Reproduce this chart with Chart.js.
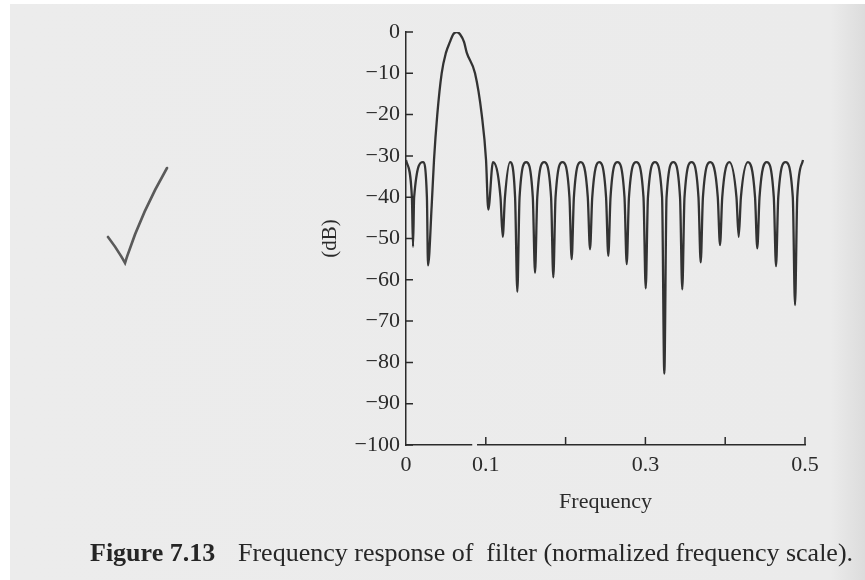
<!DOCTYPE html>
<html>
<head>
<meta charset="utf-8">
<script src="https://cdn.jsdelivr.net/npm/chart.js@4.4.1/dist/chart.umd.min.js"></script>
<style>
  body { margin: 0; background: #fff; }
  #page {
    position: absolute; left: 10px; top: 4px; width: 855px; height: 576px;
    background: linear-gradient(to right, #ececec 0%, #ebebeb 96%, #dcdcdc 100%);
  }
  #wrap { position: absolute; left: 0; top: 0; width: 865px; height: 580px; }
  #caption {
    position: absolute; left: 90px; top: 538px; white-space: nowrap;
    font-family: "Liberation Serif", serif; font-size: 26px; color: #262626;
  }
  #caption b { display: inline-block; width: 148px; }
  #tick { position: absolute; left: 0; top: 0; }
</style>
</head>
<body>
<div id="page"></div>
<svg id="tick" width="865" height="580">
  <path d="M108 237 Q118 250 125 263 Q140 215 167 168" fill="none" stroke="#5a5a5a" stroke-width="2.6" stroke-linecap="round"/>
</svg>
<div id="wrap"><canvas id="myChart" width="865" height="580"></canvas></div>
<div id="caption"><b>Figure 7.13</b>Frequency response of&nbsp; filter (normalized frequency scale).</div>
<script>
// normalized frequency and response in dB
const freq = [
  0, 0.0074, 0.0088, 0.0102, 0.0213, 0.0262, 0.0276,
  0.0322, 0.0351, 0.0392, 0.0447, 0.0501, 0.0551, 0.0591, 0.0635, 0.0679, 0.0727, 0.0761, 0.0865, 0.0949, 0.1003, 0.1031,
  0.1090, 0.1184, 0.1212, 0.1240,
  0.1304, 0.1367, 0.1395, 0.1423,
  0.1506, 0.1589, 0.1617, 0.1645,
  0.1731, 0.1818, 0.1846, 0.1874,
  0.1961, 0.2048, 0.2076, 0.2104,
  0.2191, 0.2278, 0.2306, 0.2334,
  0.2420, 0.2507, 0.2535, 0.2563,
  0.2650, 0.2738, 0.2766, 0.2794,
  0.2885, 0.2976, 0.3004, 0.3032,
  0.3120, 0.3209, 0.3237, 0.3265,
  0.3350, 0.3434, 0.3462, 0.3490,
  0.3578, 0.3665, 0.3693, 0.3721,
  0.3814, 0.3907, 0.3935, 0.3963,
  0.4052, 0.4141, 0.4169, 0.4197,
  0.4285, 0.4374, 0.4402, 0.4430,
  0.4520, 0.4609, 0.4637, 0.4665,
  0.4756, 0.4847, 0.4875, 0.4903,
  0.4975
];
const gain = [
  -31, -40, -52, -40, -31.5, -40, -56.5,
  -42, -31, -20, -10, -5, -2.4, -0.6, 0, -0.6, -2.4, -5, -10, -20, -31, -43,
  -31.5, -40, -49.6, -40,
  -31.5, -40, -62.9, -40,
  -31.5, -40, -58.3, -40,
  -31.5, -40, -59.4, -40,
  -31.5, -40, -55.0, -40,
  -31.5, -40, -52.6, -40,
  -31.5, -40, -54.2, -40,
  -31.5, -40, -56.2, -40,
  -31.5, -40, -62.1, -40,
  -31.5, -40, -82.7, -40,
  -31.5, -40, -62.3, -40,
  -31.5, -40, -55.8, -40,
  -31.5, -40, -51.6, -40,
  -31.5, -40, -49.6, -40,
  -31.5, -40, -52.4, -40,
  -31.5, -40, -56.7, -40,
  -31.5, -40, -66.1, -40,
  -31
];
const xTickLabels = ['0', '0.1', '', '0.3', '', '0.5'];
const xBreak = [0.083, 0.089];

const ink = '#2a2a2a';
const paper = '#ececec';
const serif = 'Liberation Serif';

const points = freq.map((f, i) => ({ x: f, y: gain[i] }));

// small inward tick marks and the break in the frequency axis
const axisMarks = {
  id: 'axisMarks',
  afterDraw(chart) {
    const { ctx, chartArea, scales: { x, y } } = chart;
    ctx.save();
    ctx.strokeStyle = ink;
    ctx.lineWidth = 1.5;
    ctx.beginPath();
    y.ticks.forEach(t => {
      const py = y.getPixelForValue(t.value);
      ctx.moveTo(chartArea.left, py);
      ctx.lineTo(chartArea.left + 7, py);
    });
    x.ticks.forEach(t => {
      if (t.value <= 0) return;
      const px = x.getPixelForValue(t.value);
      ctx.moveTo(px, chartArea.bottom);
      ctx.lineTo(px, chartArea.bottom - 8);
    });
    ctx.stroke();
    ctx.fillStyle = paper;
    const b0 = x.getPixelForValue(xBreak[0]);
    const b1 = x.getPixelForValue(xBreak[1]);
    ctx.fillRect(b0, chartArea.bottom - 3, b1 - b0, 6);
    ctx.restore();
  }
};

const ctx = document.getElementById('myChart').getContext('2d');
const myChart = new Chart(ctx, {
  type: 'line',
  data: {
    datasets: [{
      data: points,
      borderColor: '#333',
      borderWidth: 2.3,
      pointRadius: 0,
      cubicInterpolationMode: 'monotone',
      fill: false
    }]
  },
  options: {
    responsive: false,
    animation: false,
    devicePixelRatio: 1,
    layout: { padding: { left: 314, top: 32, right: 60, bottom: 65 } },
    plugins: { legend: { display: false }, tooltip: { enabled: false } },
    scales: {
      x: {
        type: 'linear',
        min: 0,
        max: 0.5,
        afterFit: s => { s.height = 70; },
        grid: { drawOnChartArea: false, drawTicks: false },
        border: { display: true, color: ink, width: 1.5 },
        ticks: {
          stepSize: 0.1,
          padding: 7,
          maxRotation: 0,
          autoSkip: false,
          color: ink,
          font: { family: serif, size: 22 },
          callback: v => xTickLabels[Math.round(v * 10)]
        },
        title: {
          display: true,
          text: 'Frequency',
          color: ink,
          padding: { top: 4, bottom: 0 },
          font: { family: serif, size: 22 }
        }
      },
      y: {
        min: -100,
        max: 0,
        afterFit: s => { s.width = 92; },
        grid: { drawOnChartArea: false, drawTicks: false },
        border: { display: true, color: ink, width: 1.5 },
        ticks: {
          stepSize: 10,
          padding: 6,
          color: ink,
          font: { family: serif, size: 22 },
          callback: v => v === 0 ? '0' : '\u2212' + Math.abs(v)
        },
        title: {
          display: true,
          text: '(dB)',
          color: ink,
          padding: { top: 4, bottom: 4 },
          font: { family: serif, size: 21 }
        }
      }
    }
  },
  plugins: [axisMarks]
});
</script>
</body>
</html>
